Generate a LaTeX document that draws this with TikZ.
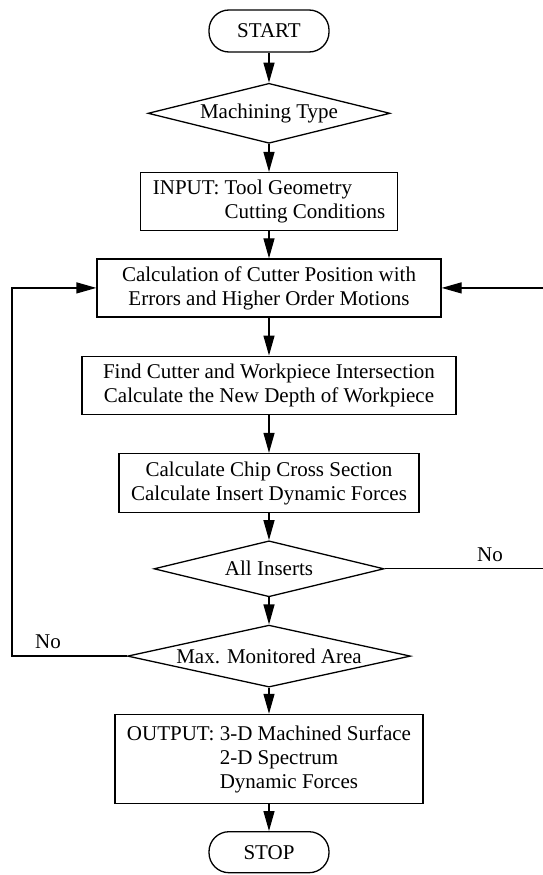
\documentclass[tikz,border=0pt]{standalone}
\usepackage{fontspec}
\setmainfont{Liberation Serif}
\usetikzlibrary{arrows.meta,positioning,shapes.geometric}

\begin{document}
\begin{tikzpicture}[
  x=1pt, y=1pt,
  font=\fontsize{21}{24}\selectfont,
  terminal/.style={draw, rectangle, rounded corners=20pt, minimum width=120pt, minimum height=42pt, line width=1.3pt},
  decision/.style={draw, diamond, aspect=4, inner sep=0pt, line width=1.3pt},
  block/.style={draw, rectangle, align=center, inner xsep=12pt, minimum height=58pt, line width=1.3pt},
  arrow/.style={-{Triangle[length=20pt, width=11pt]}, line width=1.3pt},
  node distance=30pt
]
\useasboundingbox (0,0) rectangle (543,-875);
\node[terminal] (start) at (269,-31) {START};
\node[decision, minimum width=242pt, minimum height=60pt, below=30pt of start] (type) {Machining Type};
\node[block, align=left, minimum width=256pt, below=28pt of type] (input) {INPUT: Tool Geometry\\\phantom{INPUT:\ }Cutting Conditions};
\node[block, minimum width=344pt, below=27pt of input] (pos) {Calculation of Cutter Position with\\Errors and Higher Order Motions};
\node[block, minimum width=374pt, below=38pt of pos] (cut) {Find Cutter and Workpiece Intersection\\Calculate the New Depth of Workpiece};
\node[block, minimum width=288pt, minimum height=59pt, below=38pt of cut] (chip) {Calculate Chip Cross Section\\Calculate Insert Dynamic Forces};
\node[decision, minimum width=230pt, minimum height=56pt, below=27pt of chip] (inserts) {All Inserts};
\node[decision, minimum width=283pt, minimum height=62pt, below=27pt of inserts] (area) {Max. Monitored Area};
\node[block, align=left, minimum width=300pt, minimum height=89pt, below=26pt of area] (output) {OUTPUT: 3-D Machined Surface\\\phantom{OUTPUT:\ }2-D Spectrum\\\phantom{OUTPUT:\ }Dynamic Forces};
\node[terminal, minimum height=41pt, below=27pt of output] (stop) {STOP};
% loop ends
\coordinate (lx) at (12,0);
\coordinate (rx) at (543,0);
\node (noleft) at (48,-642) {No};
\node (noright) at (490,-555) {No};
\draw[arrow] (start) -- (type);
\draw[arrow] (type) -- (input);
\draw[arrow] (input) -- (pos);
\draw[arrow] (pos) -- (cut);
\draw[arrow] (cut) -- (chip);
\draw[arrow] (chip) -- (inserts);
\draw[arrow] (inserts) -- (area);
\draw[arrow] (area) -- (output);
\draw[arrow] (output) -- (stop);
\draw[arrow] (area.west) -- (lx |- area.west) -- (lx |- pos.west) -- (pos.west);
\draw[line width=1.3pt] (inserts.east) -- (rx |- inserts.east);
\draw[arrow] (rx |- pos.east) -- (pos.east);
\end{tikzpicture}
\end{document}
